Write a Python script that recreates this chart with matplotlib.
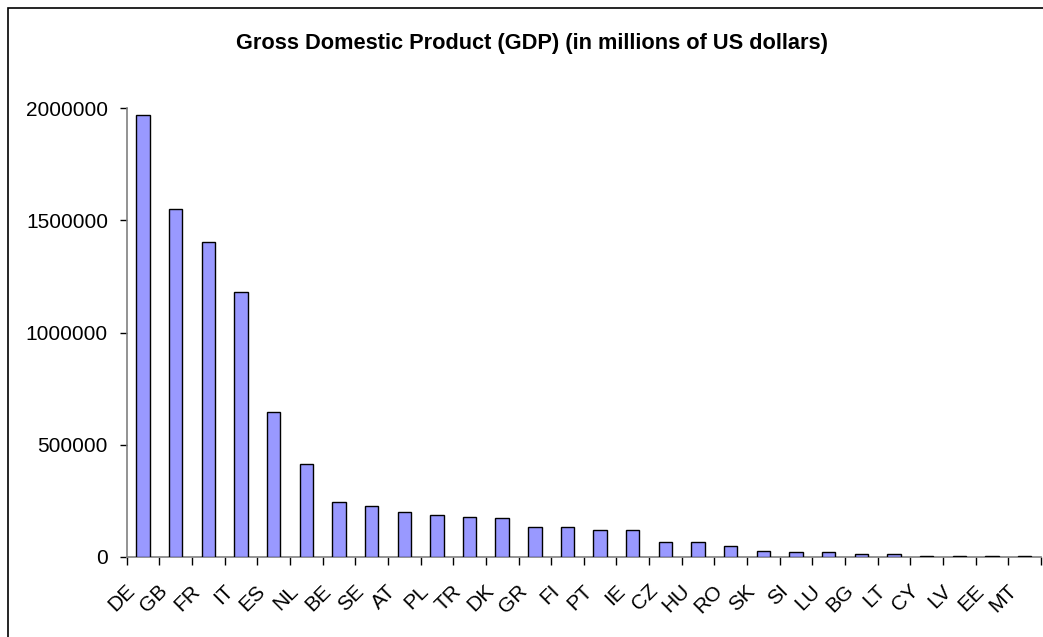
import matplotlib
matplotlib.use('Agg')
import matplotlib.pyplot as plt
from matplotlib.patches import Rectangle
from matplotlib.transforms import ScaledTranslation
import numpy as np

countries = ["DE", "GB", "FR", "IT", "ES", "NL", "BE", "SE", "AT", "PL", "TR", "DK", "GR", "FI",
             "PT", "IE", "CZ", "HU", "RO", "SK", "SI", "LU", "BG", "LT", "CY", "LV", "EE", "MT"]
gdp = [1972000, 1553000, 1404000, 1179000, 645000, 413000, 246000, 226000, 198000, 186000,
       178000, 172000, 132000, 133000, 119000, 119000, 65000, 65000, 46000, 26000,
       19000, 19000, 13000, 13000, 4000, 4000, 4000, 4000]
yticks = [0, 500000, 1000000, 1500000, 2000000]

plt.rcParams['font.family'] = ['Liberation Sans', 'DejaVu Sans']

W, H = 1043, 637
fig = plt.figure(figsize=(W / 100, H / 100), dpi=100)
ax = fig.add_axes([126.7 / W, (H - 556.7) / H, (1040.9 - 126.7) / W, (556.7 - 108.3) / H])

x = np.arange(len(countries))
ax.bar(x, gdp, width=0.41, color="#9999FF", edgecolor="black", linewidth=1.0, zorder=3)

ax.set_xlim(-0.5, len(countries) - 0.5)
ax.set_ylim(0, 2000000)
ax.set_yticks(yticks)
ax.set_yticklabels([str(v) for v in yticks], fontsize=15)
ax.set_xticks(x)
ax.set_xticklabels(countries, fontsize=15, rotation=45, ha='right', va='center',
                   rotation_mode='anchor')
ax.tick_params(axis='x', length=0, pad=16)
ax.set_xticks(np.arange(len(countries) + 1) - 0.5, minor=True)
ax.tick_params(axis='x', which='minor', length=5.5, width=1, color='black', direction='out')
ax.tick_params(axis='y', length=5, width=1, color='black', pad=8.5)

# shift the rotated labels down-left like the original
shift = ScaledTranslation(-0.11, -0.09, fig.dpi_scale_trans)
for lab in ax.get_xticklabels():
    lab.set_transform(lab.get_transform() + shift)

for s in ['top', 'right']:
    ax.spines[s].set_visible(False)
for s in ['left', 'bottom']:
    ax.spines[s].set_color('#808080')
    ax.spines[s].set_linewidth(1.2)

fig.text(531.5 / W, 1 - 43 / H, "Gross Domestic Product (GDP) (in millions of US dollars)",
         ha='center', va='center', fontsize=15.7, fontweight='bold')

fig.patches.append(Rectangle((8 / W, -0.1), 2.0, 1.1 - 8 / H, transform=fig.transFigure,
                             fill=False, edgecolor='black', linewidth=1.2))

fig.savefig("out.png", dpi=100)
